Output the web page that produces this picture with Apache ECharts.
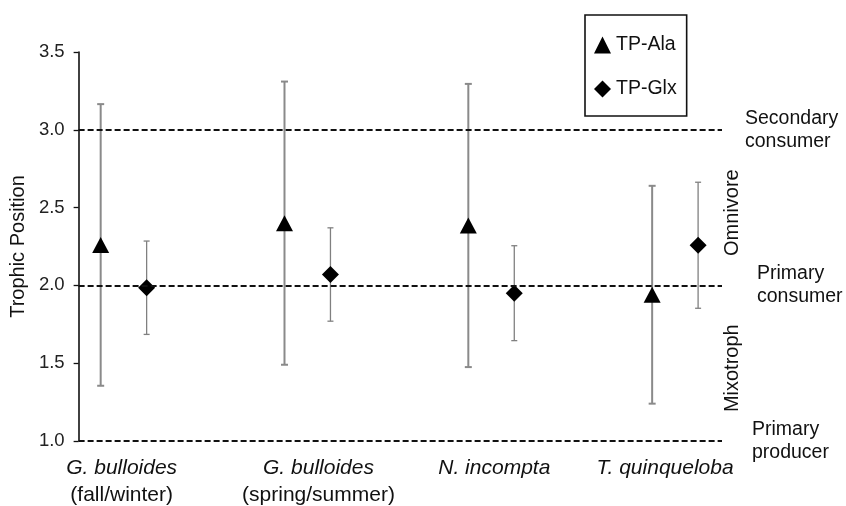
<!DOCTYPE html>
<html>
<head>
<meta charset="utf-8">
<script src="https://cdn.jsdelivr.net/npm/echarts@6/dist/echarts.min.js"></script>
<style>
  html, body { margin: 0; padding: 0; background: #fff; }
  #chart { width: 846px; height: 506px; }
</style>
</head>
<body>
<div id="chart"></div>
<script>
// Species groups; group i is centred on x = i + 1
const speciesName = ['G. bulloides', 'G. bulloides', 'N. incompta', 'T. quinqueloba'];
const speciesNote = ['(fall/winter)', '(spring/summer)', '', ''];

// Trophic position estimates with symmetric error half-widths
const tpAla = [2.26, 2.40, 2.385, 1.94];
const tpAlaErr = [0.905, 0.91, 0.91, 0.70];
const tpGlx = [1.985, 2.07, 1.95, 2.258];
const tpGlxErr = [0.30, 0.30, 0.305, 0.405];

// Axis ticks and trophic reference levels
const yTicks = [1.0, 1.5, 2.0, 2.5, 3.0, 3.5];
const levels = [3.0, 2.0, 1.0];
const levelNames = ['Secondary\nconsumer', 'Primary\nconsumer', 'Primary\nproducer'];
const zoneNames = ['Omnivore', 'Mixotroph'];
const zoneMids = [2.5, 1.5];

const FONT = '"Liberation Sans", Arial, Helvetica, sans-serif';
const GLX_SHIFT = 0.25;                 // Glx points sit a quarter step right of Ala
const levelLabelGap = [23, 35, 30];     // px from line end to level label
const speciesNudge = [-2, 11, 3, -10];  // px tweak of each species label

const alaPoints = tpAla.map((v, i) => [i + 1, v]);
const glxPoints = tpGlx.map((v, i) => [i + 1 + GLX_SHIFT, v]);
const alaBars = tpAla.map((v, i) => [i + 1, v - tpAlaErr[i], v + tpAlaErr[i]]);
const glxBars = tpGlx.map((v, i) => [i + 1 + GLX_SHIFT, v - tpGlxErr[i], v + tpGlxErr[i]]);

function errorBars(color, width, cap) {
  return function (params, api) {
    const x = api.value(0);
    const lo = api.coord([x, api.value(1)]);
    const hi = api.coord([x, api.value(2)]);
    const style = { stroke: color, lineWidth: width };
    return {
      type: 'group',
      children: [
        { type: 'line', shape: { x1: lo[0], y1: lo[1], x2: hi[0], y2: hi[1] }, style },
        { type: 'line', shape: { x1: lo[0] - cap, y1: lo[1], x2: lo[0] + cap, y2: lo[1] }, style },
        { type: 'line', shape: { x1: hi[0] - cap, y1: hi[1], x2: hi[0] + cap, y2: hi[1] }, style }
      ]
    };
  };
}

const chart = echarts.init(document.getElementById('chart'), null, { renderer: 'canvas' });

chart.setOption({
  animation: false,
  backgroundColor: '#fff',
  textStyle: { fontFamily: FONT },
  grid: { left: 77, right: 124, top: 52, bottom: 65, containLabel: false },
  xAxis: { type: 'value', min: 0.88, max: 4.38, show: false },
  yAxis: {
    type: 'value',
    min: yTicks[0],
    max: yTicks[yTicks.length - 1],
    interval: 0.5,
    name: 'Trophic Position',
    nameLocation: 'middle',
    nameGap: 45,
    nameTextStyle: { fontSize: 20, color: '#111', fontFamily: FONT },
    axisLine: { show: true, lineStyle: { color: '#111', width: 1.6 } },
    axisTick: { show: true, length: 5, lineStyle: { color: '#111', width: 1.3 } },
    splitLine: { show: false },
    axisLabel: {
      margin: 14, fontSize: 18.5, color: '#222', fontFamily: FONT,
      formatter: v => v.toFixed(1)
    }
  },
  legend: {
    orient: 'vertical',
    left: 585,
    top: 15,
    padding: [19, 10, 16, 9],
    itemGap: 22,
    itemWidth: 17,
    itemHeight: 17,
    itemTextGap: 4,
    borderColor: '#111',
    borderWidth: 1.6,
    textStyle: { fontSize: 19.5, color: '#111', lineHeight: 22, fontFamily: FONT },
    data: [{ name: 'TP-Ala', icon: 'triangle' }, { name: 'TP-Glx', icon: 'diamond' }]
  },
  series: [
    {
      name: 'levels',
      type: 'line',
      data: [],
      z: 1,
      markLine: {
        silent: true,
        symbol: 'none',
        lineStyle: { type: [6, 3], color: '#111', width: 1.9 },
        label: {
          position: 'end', color: '#111', fontSize: 19.5, lineHeight: 23,
          fontFamily: FONT, align: 'left'
        },
        data: levels.map((v, i) => ({
          yAxis: v,
          label: { formatter: levelNames[i], distance: levelLabelGap[i] }
        }))
      }
    },
    {
      name: 'Ala error',
      type: 'custom',
      z: 2,
      renderItem: errorBars('#8a8a8a', 2, 3.5),
      encode: { x: 0, y: [1, 2] },
      data: alaBars
    },
    {
      name: 'Glx error',
      type: 'custom',
      z: 2,
      renderItem: errorBars('#808080', 1.3, 3),
      encode: { x: 0, y: [1, 2] },
      data: glxBars
    },
    {
      name: 'TP-Ala',
      type: 'scatter',
      z: 3,
      symbol: 'triangle',
      symbolSize: [17, 16],
      itemStyle: { color: '#000', opacity: 1 },
      data: alaPoints
    },
    {
      name: 'TP-Glx',
      type: 'scatter',
      z: 3,
      symbol: 'diamond',
      symbolSize: [17, 17],
      itemStyle: { color: '#000', opacity: 1 },
      data: glxPoints
    }
  ]
});

// Species names under the bottom reference line, and zone names along the right edge
const toPx = p => chart.convertToPixel({ xAxisIndex: 0, yAxisIndex: 0 }, p);
const graphics = [];
speciesName.forEach((name, i) => {
  const p = toPx([i + 1 + GLX_SHIFT / 2, yTicks[0]]);
  const text = speciesNote[i] ? `{i|${name}}\n{n|${speciesNote[i]}}` : `{i|${name}}`;
  graphics.push({
    type: 'text',
    x: p[0] + speciesNudge[i],
    y: p[1] + 14,
    silent: true,
    style: {
      text,
      align: 'center',
      verticalAlign: 'top',
      fill: '#111',
      font: `21px ${FONT}`,
      rich: {
        i: { fontStyle: 'italic', fontSize: 21, lineHeight: 27, fontFamily: FONT, fill: '#111' },
        n: { fontSize: 21, lineHeight: 27, fontFamily: FONT, fill: '#111' }
      }
    }
  });
});
zoneNames.forEach((name, i) => {
  const p = toPx([4.38, zoneMids[i]]);
  graphics.push({
    type: 'text',
    x: p[0] + 10,
    y: p[1] + 5,
    rotation: Math.PI / 2,
    silent: true,
    style: {
      text: name,
      align: 'center',
      verticalAlign: 'middle',
      fill: '#111',
      font: `20px ${FONT}`
    }
  });
});
chart.setOption({ graphic: graphics });
</script>
</body>
</html>
